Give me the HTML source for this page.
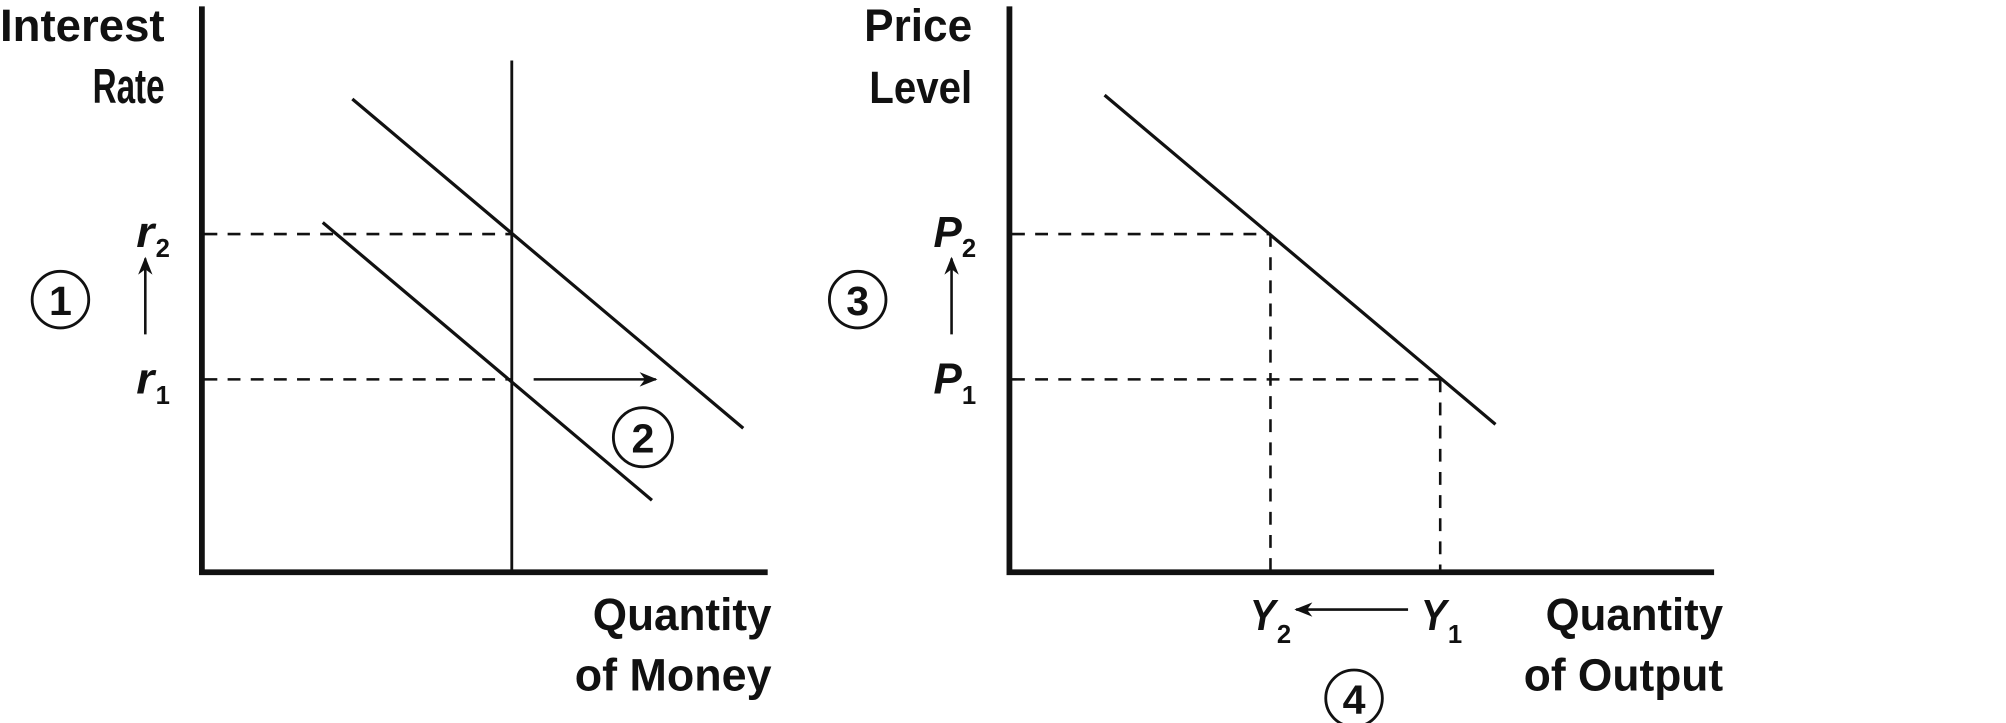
<!DOCTYPE html>
<html><head><meta charset="utf-8"><style>
html,body{margin:0;padding:0;background:#fff;}
svg{display:block;}
text{font-family:"Liberation Sans",sans-serif;font-weight:bold;fill:#111;}
</style></head><body>
<svg width="2006" height="723" viewBox="0 0 1560 562.2" preserveAspectRatio="none" xmlns="http://www.w3.org/2000/svg">
<defs>
<marker id="ah" viewBox="0 0 10 10" refX="9" refY="5" markerWidth="14" markerHeight="14" markerUnits="userSpaceOnUse" orient="auto">
<path d="M0,1 L10,5 L0,9 L3,5 Z" fill="#111"/></marker>
</defs>
<g stroke="#111" fill="none">
<path d="M157,5 V445 H597" stroke-width="4.5"/>
<line x1="398" y1="47" x2="398" y2="445" stroke-width="2.2"/>
<line x1="274" y1="77" x2="578" y2="333" stroke-width="2.5"/>
<line x1="251" y1="173" x2="507" y2="389" stroke-width="2.5"/>
<g stroke-dasharray="10,8" stroke-width="2"><line x1="159" y1="182" x2="398" y2="182"/><line x1="159" y1="295" x2="398" y2="295"/></g>
<line x1="415" y1="295" x2="510" y2="295" stroke-width="2" marker-end="url(#ah)"/>
<line x1="113" y1="260" x2="113" y2="201" stroke-width="2" marker-end="url(#ah)"/>
<circle cx="47" cy="233" r="22" stroke-width="2.2"/>
<circle cx="500" cy="340" r="23" stroke-width="2.2"/>
<path d="M785,5 V445 H1333" stroke-width="4.5"/>
<line x1="859" y1="74" x2="1163" y2="330" stroke-width="2.5"/>
<g stroke-dasharray="10,8" stroke-width="2">
<line x1="787" y1="182" x2="988" y2="182"/><line x1="787" y1="295" x2="1120" y2="295"/>
<line x1="988" y1="182" x2="988" y2="445"/><line x1="1120" y1="295" x2="1120" y2="445"/></g>
<line x1="740" y1="260" x2="740" y2="201" stroke-width="2" marker-end="url(#ah)"/>
<line x1="1095" y1="474" x2="1008" y2="474" stroke-width="2" marker-end="url(#ah)"/>
<circle cx="667" cy="233" r="22" stroke-width="2.2"/>
<circle cx="1053" cy="543" r="22" stroke-width="2.2"/>
</g>
<g font-size="35">
<text x="0" y="32" textLength="128" lengthAdjust="spacingAndGlyphs">Interest</text>
<text transform="translate(128,80) scale(0.68,1)" text-anchor="end" font-size="38">Rate</text>
<text x="461" y="490" textLength="139" lengthAdjust="spacingAndGlyphs">Quantity</text>
<text x="447" y="537" textLength="153" lengthAdjust="spacingAndGlyphs">of Money</text>
<text x="672" y="32" textLength="84" lengthAdjust="spacingAndGlyphs">Price</text>
<text x="676" y="80" textLength="80" lengthAdjust="spacingAndGlyphs">Level</text>
<text x="1202" y="490" textLength="138" lengthAdjust="spacingAndGlyphs">Quantity</text>
<text x="1185" y="537" textLength="155" lengthAdjust="spacingAndGlyphs">of Output</text>
</g>
<g font-size="34" font-style="italic">
<text x="106" y="192" textLength="14" lengthAdjust="spacingAndGlyphs">r</text><text x="106" y="306" textLength="14" lengthAdjust="spacingAndGlyphs">r</text>
<text x="726" y="192" textLength="22" lengthAdjust="spacingAndGlyphs">P</text><text x="726" y="306" textLength="22" lengthAdjust="spacingAndGlyphs">P</text>
<text x="972" y="490" textLength="20" lengthAdjust="spacingAndGlyphs">Y</text><text x="1105" y="490" textLength="20" lengthAdjust="spacingAndGlyphs">Y</text>
</g>
<g font-size="20" font-weight="normal">
<text x="121" y="200">2</text><text x="121" y="314">1</text>
<text x="748" y="200">2</text><text x="748" y="314">1</text>
<text x="993" y="500">2</text><text x="1126" y="500">1</text>
</g>
<g font-size="32" text-anchor="middle">
<text x="47" y="245">1</text><text x="500" y="352">2</text>
<text x="667" y="245">3</text><text x="1053" y="555">4</text>
</g>
</svg>
</body></html>
